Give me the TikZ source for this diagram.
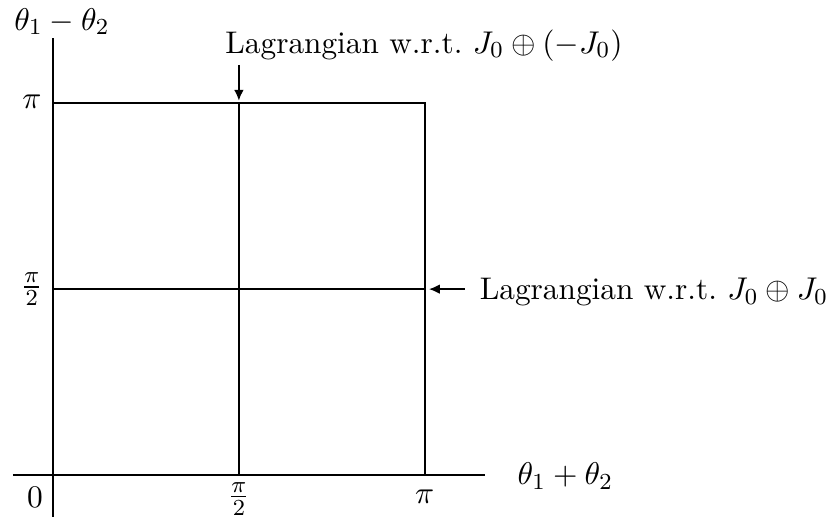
\documentclass[tikz,border=0pt]{standalone}
\usepackage{amsmath}
\usepackage{amssymb}
\usetikzlibrary{calc, positioning, arrows.meta}

\begin{document}
\begin{tikzpicture}[every node/.style={font=\fontsize{10.9}{13}\selectfont},
                    axis/.style={line width=1pt},
                    grid/.style={line width=0.7pt},
                    pointer/.style={-{Latex[length=3.8pt, width=3.4pt]}, line width=0.7pt}]
          \useasboundingbox (-0.649, -0.539) rectangle (9.559, 5.814);
          % axes
          \coordinate (xstart) at (-0.49, 0);
          \coordinate (xend) at (5.29, 0);
          \coordinate (ystart) at (0, -0.51);
          \coordinate (yend) at (0, 5.35);
          \draw[axis] (xstart) -- (xend);
          \draw[axis] (ystart) -- (yend);
          % square and middle lines
          \coordinate (origin) at (0, 0);
          \coordinate (corner) at (4.55, 4.55);
          \coordinate (midbot) at (2.275, 0);
          \coordinate (midtop) at (2.275, 4.55);
          \coordinate (midleft) at (0, 2.275);
          \coordinate (midright) at (4.55, 2.275);
          \draw[grid] (0, 4.55) -- (corner) -- (4.55, 0);
          \draw[grid] (midbot) -- (midtop);
          \draw[grid] (midleft) -- (midright);
          % labels
          \node (ylabel) at (0.11, 5.55) {$\theta_1 - \theta_2$};
          \node (xlabel) at (6.27, -0.01) {$\theta_1 + \theta_2$};
          \node (ypi) at (-0.26, 4.57) {$\pi$};
          \node (yhalf) at (-0.26, 2.275) {$\frac{\pi}{2}$};
          \node (zero) at (-0.22, -0.27) {$0$};
          \node (xhalf) at (2.275, -0.29) {$\frac{\pi}{2}$};
          \node (xpi) at (4.55, -0.27) {$\pi$};
          \node (antilabel) at (4.54, 5.26) {Lagrangian w.r.t.\ $J_0 \oplus (-J_0)$};
          \node[anchor=west] (sumlabel) at (5.1, 2.24) {Lagrangian w.r.t.\ $J_0 \oplus J_0$};
          % pointers
          \coordinate (antistart) at (2.275, 5.02);
          \coordinate (antiend) at (2.275, 4.58);
          \coordinate (sumstart) at (5.04, 2.275);
          \coordinate (sumend) at (4.6, 2.275);
          \draw[pointer] (antistart) -- (antiend);
          \draw[pointer] (sumstart) -- (sumend);
      \end{tikzpicture}
\end{document}
